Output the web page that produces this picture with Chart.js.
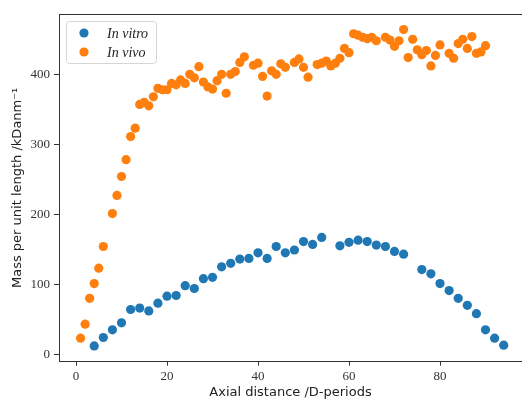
<!DOCTYPE html>
<html><head><meta charset="utf-8">
<script src="https://cdn.jsdelivr.net/npm/chart.js@4.4.1/dist/chart.umd.min.js"></script>
<style>
html,body{margin:0;padding:0;overflow:hidden;background:#fff;width:522px;height:399px}
#wrap{width:522px;height:399px}
</style></head>
<body><div id="wrap"><canvas id="c" width="522" height="399"></canvas></div>
<script>
const seriesNames = ['In vitro', 'In vivo'];
const vitroX = [4,6,8,10,12,14,16,18,20,22,24,26,28,30,32,34,36,38,40,42,44,46,48,50,52,54,58,60,62,64,66,68,70,72,76,78,80,82,84,86,88,90,92,94];
const vitroY = [12,24,35,45,64,66,62,73,83,84,98,94,108,110,125,130,136,137,145,137,154,145,149,161,157,167,155,160,163,161,156,154,147,143,121,115,101,91,80,70,58,35,23,13];
const vivoX = [1,2,3,4,5,6,8,9,10,11,12,13,14,15,16,17,18,19,20,21,22,23,24,25,26,27,28,29,30,31,32,33,34,35,36,37,39,40,41,42,43,44,45,46,48,49,50,51,53,54,55,56,57,58,59,60,61,62,63,64,65,66,68,69,70,71,72,73,74,75,76,77,78,79,80,82,83,84,85,86,87,88,89,90];
const vivoY = [23,43,80,101,123,154,201,227,254,278,311,323,357,360,355,368,380,378,378,387,385,392,387,400,395,411,389,382,379,391,400,373,400,404,417,425,413,416,397,369,405,400,415,410,417,422,410,396,414,416,419,412,416,423,437,431,458,456,453,451,453,448,453,449,440,448,464,424,450,435,428,434,412,427,442,430,423,444,450,437,454,430,432,441];
const xTicks = [0,20,40,60,80];
const yTicks = [0,100,200,300,400];

const toPts = (xs, ys) => xs.map((x, i) => ({x: x, y: ys[i]}));

const frame = {
  id: 'frame',
  afterDraw(chart) {
    const {ctx, chartArea: a} = chart;
    ctx.save();
    ctx.strokeStyle = '#333';
    ctx.lineWidth = 1;
    ctx.beginPath();
    ctx.moveTo(a.left, Math.round(a.top) + 0.5);
    ctx.lineTo(chart.width, Math.round(a.top) + 0.5);
    ctx.stroke();
    // legend inside the axes
    const bx = a.left + 7, by = a.top + 7, bw = 90, bh = 42;
    ctx.beginPath();
    if (ctx.roundRect) ctx.roundRect(bx + 0.5, by + 0.5, bw, bh, 3); else ctx.rect(bx + 0.5, by + 0.5, bw, bh);
    ctx.fillStyle = 'rgba(255,255,255,0.8)';
    ctx.fill();
    ctx.strokeStyle = '#d6d6d6';
    ctx.stroke();
    chart.data.datasets.forEach((ds, i) => {
      const cy = by + 12 + i * 19;
      ctx.beginPath();
      ctx.arc(bx + 18, cy, 4.6, 0, Math.PI * 2);
      ctx.fillStyle = ds.backgroundColor;
      ctx.fill();
      ctx.fillStyle = '#222';
      ctx.font = 'italic 14px "Liberation Serif"';
      ctx.textBaseline = 'middle';
      ctx.textAlign = 'left';
      ctx.fillText(ds.label, bx + 41, cy + 1);
    });
    ctx.restore();
  }
};

new Chart(document.getElementById('c'), {
  type: 'scatter',
  data: {
    datasets: [
      {label: seriesNames[0], data: toPts(vitroX, vitroY), backgroundColor: '#1f77b4', borderWidth: 0, pointRadius: 4.6, pointHoverRadius: 4.6},
      {label: seriesNames[1], data: toPts(vivoX, vivoY), backgroundColor: '#ff7f0e', borderWidth: 0, pointRadius: 4.6, pointHoverRadius: 4.6}
    ]
  },
  options: {
    responsive: false,
    animation: false,
    devicePixelRatio: 1,
    layout: {autoPadding: false, padding: {left: 0, top: 14, right: 0, bottom: 0}},
    plugins: {legend: {display: false}, tooltip: {enabled: false}},
    scales: {
      x: {
        type: 'linear', min: -3.74, max: 98.02,
        afterBuildTicks: s => { s.ticks = xTicks.map(v => ({value: v})); },
        afterFit: s => { s.height = 37.3; s.paddingLeft = 0; s.paddingRight = 0; },
        grid: {drawOnChartArea: false, drawTicks: true, tickLength: 4, color: '#333'},
        border: {display: true, color: '#333', width: 1},
        ticks: {font: {family: 'Liberation Serif', size: 13}, color: '#333', padding: 3, maxRotation: 0},
        title: {display: true, text: 'Axial distance /D-periods', font: {family: 'DejaVu Sans', size: 13, lineHeight: 1}, color: '#222', padding: {top: 0, bottom: 0}}
      },
      y: {
        type: 'linear', min: -10.6, max: 486.2,
        afterBuildTicks: s => { s.ticks = yTicks.map(v => ({value: v})); },
        afterFit: s => { s.width = 59; s.paddingTop = 0; s.paddingBottom = 0; },
        grid: {drawOnChartArea: false, drawTicks: true, tickLength: 5, color: '#333'},
        border: {display: true, color: '#333', width: 1},
        ticks: {font: {family: 'Liberation Serif', size: 13}, color: '#333', padding: 4},
        title: {display: true, text: 'Mass per unit length /kDanm\u207B\u00B9', font: {family: 'DejaVu Sans', size: 13, lineHeight: 1}, color: '#222', padding: {top: 11.5, bottom: 0}}
      }
    }
  },
  plugins: [frame]
});
</script>
</body></html>
